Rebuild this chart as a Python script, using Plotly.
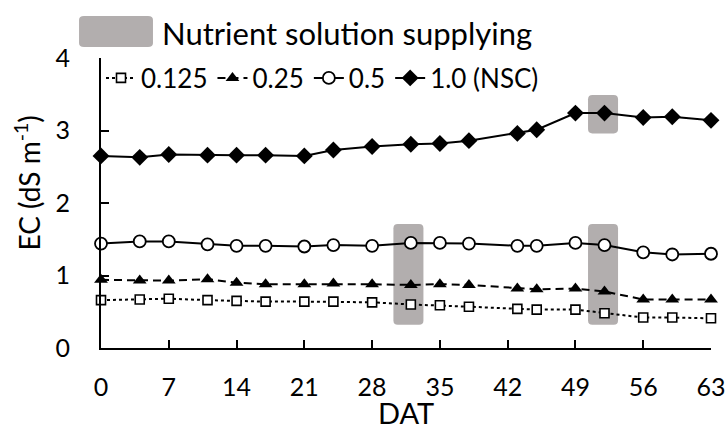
import plotly.graph_objects as go

# ---------------- data ----------------
dat = [0, 4, 7, 11, 14, 17, 21, 24, 28, 32, 35, 38, 43, 45, 49, 52, 56, 59, 63]
ec_0125 = [0.66, 0.67, 0.68, 0.66, 0.65, 0.64, 0.64, 0.64, 0.63, 0.60, 0.59, 0.57,
           0.54, 0.53, 0.53, 0.48, 0.42, 0.42, 0.41]
ec_025 = [0.94, 0.93, 0.93, 0.95, 0.90, 0.88, 0.88, 0.89, 0.88, 0.87, 0.88, 0.87,
          0.82, 0.81, 0.82, 0.78, 0.67, 0.67, 0.67]
ec_05 = [1.44, 1.47, 1.47, 1.43, 1.41, 1.41, 1.40, 1.42, 1.41, 1.45, 1.45, 1.44,
         1.41, 1.41, 1.45, 1.42, 1.32, 1.29, 1.30]
ec_10 = [2.65, 2.63, 2.67, 2.66, 2.66, 2.66, 2.65, 2.73, 2.78, 2.81, 2.82, 2.86,
         2.96, 3.01, 3.24, 3.24, 3.18, 3.19, 3.14]
series_names = ["0.125", "0.25", "0.5", "1.0 (NSC)"]
x_ticks = [0, 7, 14, 21, 28, 35, 42, 49, 56, 63]
y_ticks = [0, 1, 2, 3, 4]

# nutrient solution supplying periods (day start, day end, EC low, EC high)
supply_x0 = [30.2, 50.3, 50.3]
supply_x1 = [33.3, 53.4, 53.4]
supply_y0 = [0.32, 0.32, 2.96]
supply_y1 = [1.71, 1.71, 3.49]

GRAY = "#b2aeae"
FONT = "Lato"

fig = go.Figure()

fig.add_trace(go.Scatter(
    x=dat, y=ec_0125, name=series_names[0], mode="lines+markers",
    line=dict(color="black", width=2, dash="dot"),
    marker=dict(symbol="square", size=9, color="white",
                line=dict(color="black", width=1.6)),
    cliponaxis=False))
fig.add_trace(go.Scatter(
    x=dat, y=ec_025, name=series_names[1], mode="lines+markers",
    line=dict(color="black", width=2, dash="8px,5px"),
    marker=dict(symbol="triangle-up", size=12, color="black"),
    cliponaxis=False))
fig.add_trace(go.Scatter(
    x=dat, y=ec_05, name=series_names[2], mode="lines+markers",
    line=dict(color="black", width=2),
    marker=dict(symbol="circle", size=12, color="white",
                line=dict(color="black", width=1.8)),
    cliponaxis=False))
fig.add_trace(go.Scatter(
    x=dat, y=ec_10, name=series_names[3], mode="lines+markers",
    line=dict(color="black", width=2),
    marker=dict(symbol="diamond", size=13, color="black"),
    cliponaxis=False))


def rounded_path(x0, x1, y0, y1, rx, ry):
    return (f"M{x0+rx},{y0} L{x1-rx},{y0} Q{x1},{y0} {x1},{y0+ry} "
            f"L{x1},{y1-ry} Q{x1},{y1} {x1-rx},{y1} L{x0+rx},{y1} "
            f"Q{x0},{y1} {x0},{y1-ry} L{x0},{y0+ry} Q{x0},{y0} {x0+rx},{y0} Z")


shapes = []
for a, b, c, d in zip(supply_x0, supply_x1, supply_y0, supply_y1):
    shapes.append(dict(type="path", xref="x", yref="y", layer="below",
                       path=rounded_path(a, b, c, d, 0.45, 0.06),
                       fillcolor=GRAY, line=dict(width=0)))

# legend key for the supplying periods (paper coords)
shapes.append(dict(type="path", xref="paper", yref="paper", layer="above",
                   path=rounded_path(-0.036, 0.0852, 1.038, 1.145, 0.008, 0.014),
                   fillcolor=GRAY, line=dict(width=0)))

fig.update_layout(
    width=726, height=430,
    margin=dict(l=101, r=15, t=58, b=82, autoexpand=False),
    paper_bgcolor="white", plot_bgcolor="white",
    font=dict(family=FONT, color="black", size=24),
    shapes=shapes,
    showlegend=True,
    legend=dict(orientation="h", x=0.0, y=0.931, xanchor="left", yanchor="middle",
                font=dict(size=26, family=FONT), itemwidth=30,
                bgcolor="rgba(0,0,0,0)", borderwidth=0, tracegroupgap=0),
    annotations=[
        dict(text="Nutrient solution supplying", xref="paper", yref="paper",
             x=0.0967, y=1.086, xanchor="left", yanchor="middle",
             showarrow=False, font=dict(size=31, family=FONT)),
        dict(text="EC (dS m<sup>-1</sup>)", xref="paper", yref="paper",
             x=(28 - 101) / 610, y=(348 - 183.5) / 290, xanchor="center",
             yanchor="middle", textangle=-90, showarrow=False,
             font=dict(size=28, family=FONT)),
    ],
)

fig.update_xaxes(range=[0, 63], tickvals=x_ticks, ticks="inside", ticklen=8,
                 tickwidth=1.5, tickcolor="black", showline=True, linewidth=2,
                 linecolor="black", showgrid=False, zeroline=False, automargin=False,
                 ticklabelstandoff=16, tickfont=dict(size=25),
                 title=dict(text="DAT", font=dict(size=29), standoff=9))
fig.update_yaxes(range=[0, 4], tickvals=y_ticks, ticks="inside", ticklen=8,
                 tickwidth=1.5, tickcolor="black", showline=True, linewidth=2,
                 linecolor="black", showgrid=False, zeroline=False, automargin=False,
                 ticklabelstandoff=24, tickfont=dict(size=25))

fig.write_html("out.html")
